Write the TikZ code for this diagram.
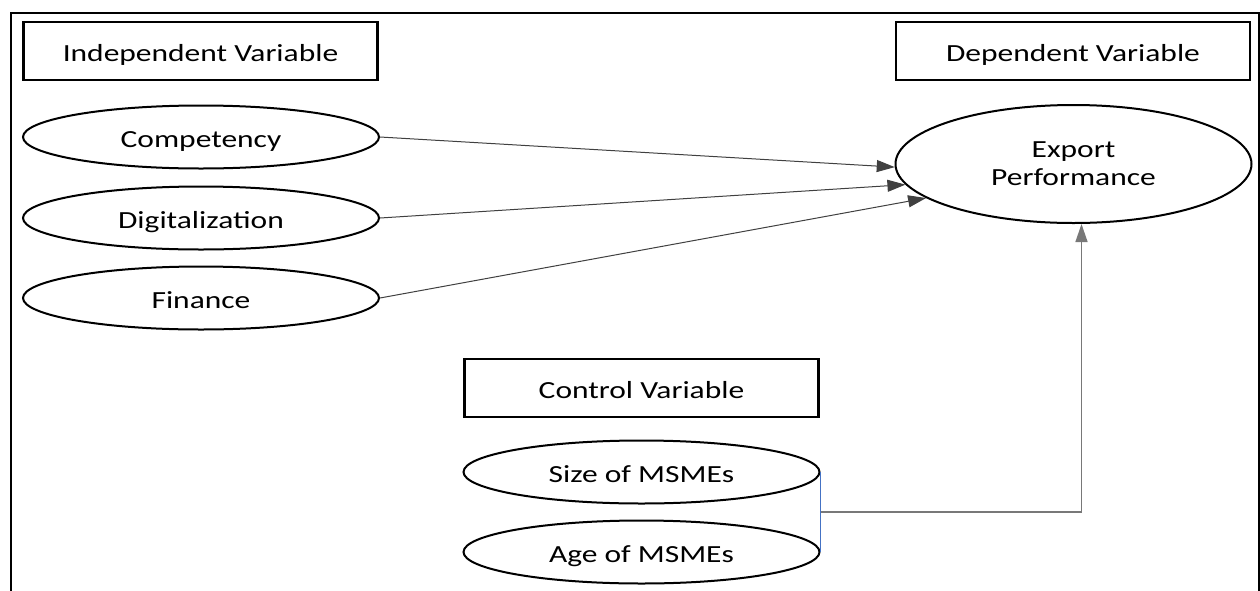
\documentclass[tikz,border=0pt]{standalone}
\usepackage{fontspec}
\setmainfont{Carlito}[FakeStretch=1.28]
\usepackage{tikz}
\usetikzlibrary{shapes.geometric,arrows.meta}
\definecolor{msblue}{RGB}{68,114,196}
\definecolor{lgray}{RGB}{120,120,120}

\tikzset{
  varbox/.style={draw, rectangle, line width=1.2pt, minimum width=177pt, minimum height=29pt, inner sep=0pt, text height=10pt, text depth=0pt, font=\fontsize{12.3}{15}\selectfont},
  varell/.style={draw, ellipse, line width=1pt, minimum width=178pt, minimum height=31.5pt, inner sep=0pt, text height=10pt, text depth=0pt, font=\fontsize{12.3}{15}\selectfont},
  bigell/.style={draw, ellipse, line width=1pt, minimum width=178pt, minimum height=59pt, inner sep=0pt, align=center, font=\fontsize{12.3}{15}\selectfont},
  link/.style={draw=black!75, line width=0.5pt, -{Triangle[length=9pt,width=6pt]}}
}

\begin{document}
\begin{tikzpicture}[x=0.5pt,y=-0.5pt]
\useasboundingbox (0,0) rectangle (1260,590);
\draw[line width=1pt] (11,595) -- (11,13) -- (1259,13) -- (1259,595);

\node[varbox](IV) at (200.5,51) {Independent Variable};
\node[varbox](DV) at (1073,51) {Dependent Variable};
\node[varbox](CV) at (641.5,388) {Control Variable};

\node[varell](comp) at (201,137) {Competency};
\node[varell](digi) at (201,218) {Digitalization};
\node[varell](fin) at (201,298) {Finance};
\node[bigell](exp) at (1073.5,164) {Export\\[-1pt]Performance};

\node[varell](size) at (641.5,472) {Size of MSMEs};
\node[varell](age) at (641.5,552) {Age of MSMEs};

\draw[link](comp.east) to (exp.181);
\draw[link](digi.east) to (exp.187);
\draw[link](fin.east) to (exp.193);

\draw[msblue, line width=0.6pt](size.east) to coordinate[pos=0.5](ctl) (size.east |- age.east);
\draw[lgray, line width=0.7pt, -{Triangle[length=9pt,width=6pt]}](ctl) -| ([xshift=4pt]exp.south);
\end{tikzpicture}
\end{document}
